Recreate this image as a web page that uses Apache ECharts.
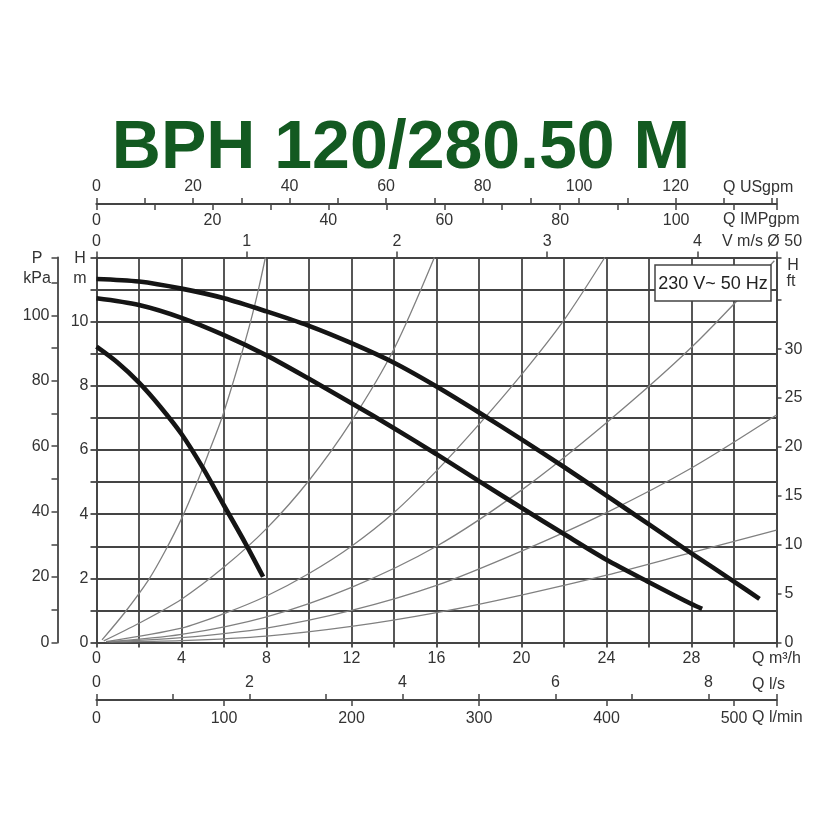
<!DOCTYPE html>
<html><head><meta charset="utf-8">
<script src="https://cdn.jsdelivr.net/npm/echarts@6/dist/echarts.min.js"></script>
<style>html,body{margin:0;padding:0;background:#fff}#c{width:840px;height:840px}</style>
</head><body><div id="c"></div>
<script>
// ---- text ----
const titleText = 'BPH 120/280.50 M';
const boxText = '230 V~ 50 Hz';

// ---- tick labels ----
const qM3hLabels = [0, 4, 8, 12, 16, 20, 24, 28];
const usgpmLabels = [0, 20, 40, 60, 80, 100, 120];
const impgpmLabels = [0, 20, 40, 60, 80, 100];
const velLabels = [0, 1, 2, 3, 4];
const lsLabels = [0, 2, 4, 6, 8];
const lminLabels = [0, 100, 200, 300, 400, 500];
const hmLabels = [0, 2, 4, 6, 8, 10];
const kpaLabels = [0, 20, 40, 60, 80, 100];
const ftLabels = [0, 5, 10, 15, 20, 25, 30];

// ---- pump curves [Q m3/h, H m] ----
const pumpHigh = [[0,11.33],[2,11.25],[4,11.03],[6,10.73],[8,10.32],[10,9.87],[12,9.33],[14,8.72],[16,7.98],[18,7.17],[20,6.33],[22,5.47],[24,4.58],[26,3.68],[28,2.78],[30,1.9],[31.2,1.36]];
const pumpMid = [[0,10.73],[2,10.52],[4,10.12],[6,9.58],[8,8.95],[10,8.22],[12,7.46],[14,6.68],[16,5.87],[18,5.03],[20,4.2],[22,3.38],[24,2.58],[26,1.88],[28,1.2],[28.5,1.05]];
const pumpLow = [[0,9.22],[1,8.72],[2,8.1],[3,7.35],[4,6.5],[5,5.45],[6,4.27],[7,3.1],[7.84,2.05]];

// ---- system curves [Q m3/h, H m] ----
const sys1 = [[0.26,0.08],[1.35,0.95],[2.45,1.95],[3.23,2.85],[4.03,3.9],[4.71,4.95],[5.3,5.95],[5.9,7],[6.38,8],[6.83,9],[7.25,10],[7.62,11],[7.95,12]];
const sys2 = [[0.34,0.05],[2,0.6],[4,1.35],[6,2.35],[8,3.55],[10,5.05],[12,6.9],[14,9.15],[15.9,12]];
const sys3 = [[0.45,0.03],[4,0.45],[6,0.9],[8,1.45],[10,2.15],[12,3.0],[14,4.05],[16,5.35],[18,6.8],[20,8.35],[22,10.05],[23.92,12]];
const sys4 = [[0.5,0.02],[4,0.25],[8,0.8],[12,1.72],[16,3.0],[20,4.75],[24,6.85],[28,9.2],[31.9,11.9]];
const sys5 = [[0.6,0.02],[4,0.15],[8,0.45],[12,1.0],[16,1.78],[20,2.85],[24,4.05],[28,5.44],[32,7.09]];
const sys6 = [[0.7,0.02],[4,0.06],[8,0.2],[12,0.5],[16,0.93],[20,1.48],[24,2.1],[28,2.8],[32,3.5]];

// ---- unit conversions for secondary scales ----
const Q_MAX = 32, H_MAX = 12;
const USGPM_PER_M3H = 4.40287, IMPGPM_PER_M3H = 3.66614;
const LS_PER_M3H = 1 / 3.6, LMIN_PER_M3H = 1000 / 60;
const VEL_PER_M3H = 1 / (3600 * Math.PI * 0.025 * 0.025);
const KPA_PER_M = 9.80665, FT_PER_M = 1 / 0.3048;

const FONT = '"Liberation Sans", Arial, Helvetica, sans-serif';
const TXT = '#333';
const AX = '#444';
const lbl = (extra) => Object.assign({fontFamily: FONT, fontSize: 16, color: TXT, hideOverlap: false, showMinLabel: true, showMaxLabel: true}, extra);
const axLine = {show: true, onZero: false, lineStyle: {color: AX, width: 1.8}};
const only = (list) => (v) => (list.indexOf(Math.round(v * 1000) / 1000) >= 0 ? String(Math.round(v * 1000) / 1000) : '');

function secX(max, interval, pos, offset, labels, tickInside, labelInside, margin) {
  return {
    type: 'value', position: pos, offset: offset, min: 0, max: max, interval: interval,
    gridIndex: 0,
    axisLine: axLine,
    splitLine: {show: false},
    axisTick: {show: true, inside: tickInside, length: 6, lineStyle: {color: AX, width: 1.5}},
    axisLabel: lbl({inside: labelInside, margin: margin, formatter: only(labels)}),
  };
}

const chart = echarts.init(document.getElementById('c'), null, {renderer: 'canvas'});

const sysStyle = {color: '#808080', width: 1.3};
const pumpStyle = {color: '#151515', width: 4.6};
function mk(data, style, z) {
  return {type: 'line', xAxisIndex: 0, yAxisIndex: 0, data: data, showSymbol: false, symbol: 'none',
    smooth: 0.3, lineStyle: style, z: z, silent: true, animation: false};
}

chart.setOption({
  animation: false,
  backgroundColor: '#fff',
  grid: {left: 96.5, right: 63.5, top: 257.5, bottom: 197.5, containLabel: false},
  xAxis: [
    {
      type: 'value', position: 'bottom', min: 0, max: Q_MAX, interval: 2,
      axisLine: axLine,
      axisTick: {show: true, length: 5, lineStyle: {color: AX, width: 1.8}},
      splitLine: {show: true, lineStyle: {color: AX, width: 1.8}},
      axisLabel: lbl({margin: 8,
        formatter: v => (v === Q_MAX ? 'Q m³/h' : (qM3hLabels.indexOf(v) >= 0 ? String(v) : ''))}),
    },
    secX(Q_MAX * VEL_PER_M3H, 1, 'top', 0, velLabels, false, false, 8),
    secX(Q_MAX * USGPM_PER_M3H, 10, 'top', 53.5, usgpmLabels, false, false, 9),
    secX(Q_MAX * IMPGPM_PER_M3H, 10, 'top', 53.5, impgpmLabels, true, true, 9),
    secX(Q_MAX * LS_PER_M3H, 1, 'bottom', 57.5, lsLabels, true, true, 9),
    secX(Q_MAX * LMIN_PER_M3H, 100, 'bottom', 57.5, lminLabels, false, false, 11),
  ],
  yAxis: [
    {
      type: 'value', position: 'left', min: 0, max: H_MAX, interval: 1,
      axisLine: axLine,
      axisTick: {show: true, length: 6, lineStyle: {color: AX, width: 1.8}},
      splitLine: {show: true, lineStyle: {color: AX, width: 1.8}},
      axisLabel: lbl({margin: 8, formatter: only(hmLabels)}),
    },
    {
      type: 'value', position: 'right', offset: 0, min: 0, max: H_MAX * FT_PER_M, interval: 5,
      axisLine: axLine, splitLine: {show: false},
      axisTick: {show: true, length: 5, lineStyle: {color: AX, width: 1.5}},
      axisLabel: lbl({margin: 8, formatter: only(ftLabels)}),
    },
    {
      type: 'value', position: 'left', offset: 39, min: 0, max: H_MAX * KPA_PER_M, interval: 10,
      axisLine: axLine, splitLine: {show: false},
      axisTick: {show: true, length: 6, lineStyle: {color: AX, width: 1.5}},
      axisLabel: lbl({margin: 8, formatter: only(kpaLabels)}),
    },
  ],
  series: [
    mk(sys1, sysStyle, 3), mk(sys2, sysStyle, 3), mk(sys3, sysStyle, 3),
    mk(sys4, sysStyle, 3), mk(sys5, sysStyle, 3), mk(sys6, sysStyle, 3),
    mk(pumpHigh, pumpStyle, 5), mk(pumpMid, pumpStyle, 5), mk(pumpLow, pumpStyle, 5),
  ],
  graphic: [
    {type: 'text', x: 401, y: 149, z: 100, style: {text: titleText, font: 'bold 68px ' + FONT, fill: '#135a21', align: 'center', verticalAlign: 'middle', textAlign: 'center', textVerticalAlign: 'middle'}},
    {type: 'rect', z: 100, shape: {x: 655, y: 265, width: 116, height: 36}, style: {fill: '#fff', stroke: '#444', lineWidth: 1.5}},
    {type: 'text', x: 713, y: 284, z: 101, style: {text: boxText, font: '18px ' + FONT, fill: '#222', align: 'center', verticalAlign: 'middle', textAlign: 'center', textVerticalAlign: 'middle'}},
    ...[
      ['P', 37, 259, 'center'], ['kPa', 37, 279, 'center'],
      ['H', 80, 259, 'center'], ['m', 80, 279, 'center'],
      ['H', 793, 266, 'center'], ['ft', 791, 282, 'center'],
      ['Q USgpm', 723, 188, 'left'], ['Q IMPgpm', 723, 220, 'left'],
      ['V m/s Ø 50', 722, 242, 'left'],
      ['Q l/s', 752, 685, 'left'], ['Q l/min', 752, 718, 'left'],
    ].map(([t, x, y, a]) => ({type: 'text', x: x, y: y, z: 100,
      style: {text: t, font: '16px ' + FONT, fill: TXT, align: a, verticalAlign: 'middle', textAlign: a, textVerticalAlign: 'middle'}})),
  ],
});
</script>
</body></html>
